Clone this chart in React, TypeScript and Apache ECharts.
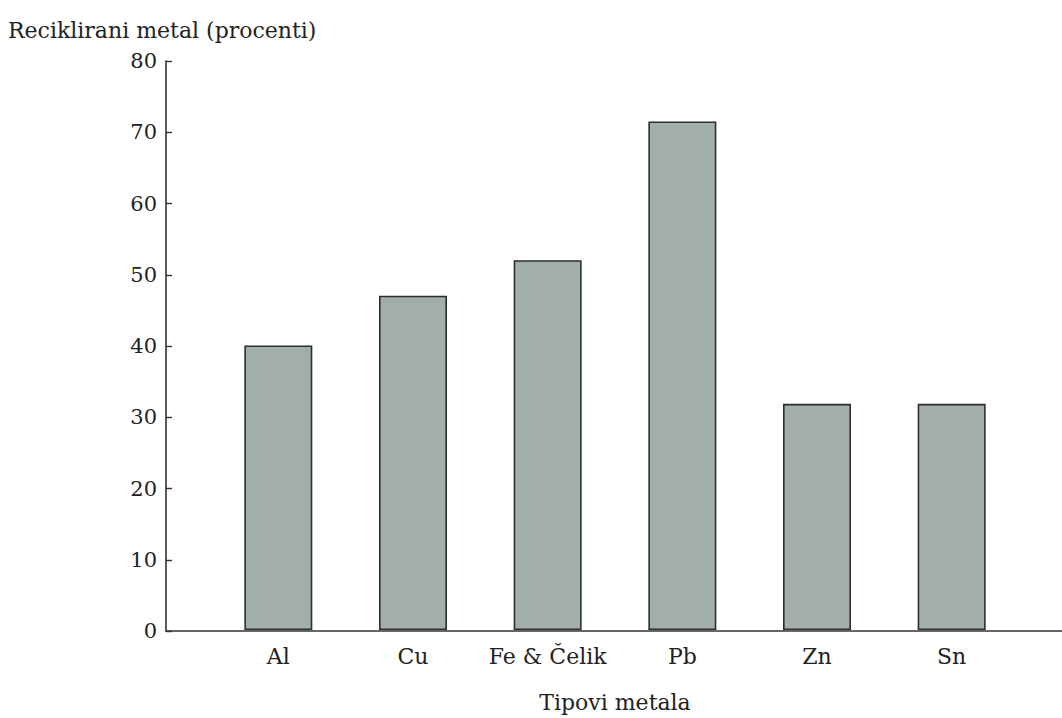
import React, { useEffect, useRef } from "react";
import * as echarts from "echarts";

const categories = ["Al", "Cu", "Fe & Čelik", "Pb", "Zn", "Sn"];
const recycledPercent = [40, 47, 52, 71.5, 31.8, 31.8];
const yTicks = { min: 0, max: 80, interval: 10 };
const yTitle = "Reciklirani metal (procenti)";
const xTitle = "Tipovi metala";

const FONT = "'DejaVu Serif', 'Liberation Serif', serif";

export default function App() {
  const ref = useRef<HTMLDivElement>(null);
  useEffect(() => {
    if (!ref.current) return;
    const chart = echarts.init(ref.current, undefined, { renderer: "svg" });
    chart.setOption({
      animation: false,
      backgroundColor: "#ffffff",
      title: {
        text: yTitle,
        left: 3,
        top: 14,
        textStyle: { fontFamily: FONT, fontWeight: "normal", fontSize: 22, color: "#222" },
      },
      grid: [
        { left: 211, right: 43, top: 61, bottom: 87 },
        { left: 166, right: 0, top: 61, bottom: 87 },
      ],
      xAxis: [
        {
          type: "category",
          gridIndex: 0,
          data: categories,
          axisLine: { show: false },
          axisTick: { show: false },
          axisLabel: {
            fontFamily: FONT,
            fontSize: 22,
            color: "#222",
            margin: 15,
            interval: 0,
            hideOverlap: false,
          },
          name: xTitle,
          nameLocation: "middle",
          nameGap: 61,
          nameTextStyle: { fontFamily: FONT, fontSize: 22, color: "#222" },
        },
        {
          type: "value",
          gridIndex: 1,
          min: 0,
          max: 1,
          axisLine: { show: true, lineStyle: { color: "#333", width: 1.6 } },
          axisTick: { show: false },
          axisLabel: { show: false },
          splitLine: { show: false },
        },
      ],
      yAxis: [
        {
          type: "value",
          gridIndex: 0,
          min: yTicks.min,
          max: yTicks.max,
          interval: yTicks.interval,
          show: false,
        },
        {
          type: "value",
          gridIndex: 1,
          min: yTicks.min,
          max: yTicks.max,
          interval: yTicks.interval,
          axisLine: { show: true, lineStyle: { color: "#333", width: 1.6 } },
          axisTick: { show: true, inside: true, length: 6, lineStyle: { color: "#333", width: 1.4 } },
          axisLabel: { fontFamily: FONT, fontSize: 21, color: "#222", margin: 9 },
          splitLine: { show: false },
        },
      ],
      series: [
        {
          type: "bar",
          xAxisIndex: 0,
          yAxisIndex: 0,
          data: recycledPercent,
          barWidth: 68,
          itemStyle: { color: "#a2aeaa", borderColor: "#2e2e2e", borderWidth: 1.6 },
        },
      ],
    });
    return () => chart.dispose();
  }, []);
  return (
    <div
      ref={ref}
      style={{ position: "absolute", left: 0, top: 0, width: 1062, height: 718 }}
    />
  );
}
